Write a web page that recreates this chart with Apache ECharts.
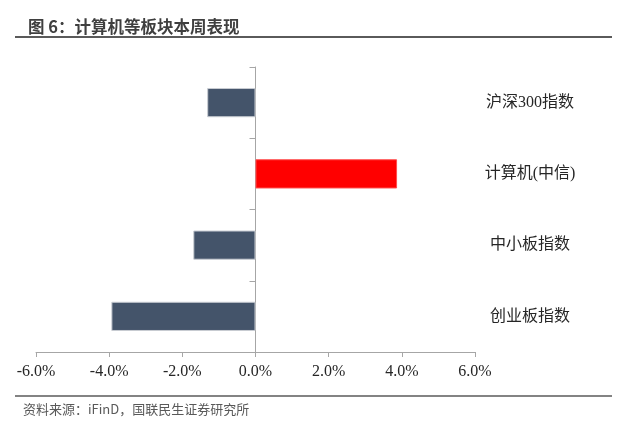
<!DOCTYPE html>
<html>
<head>
<meta charset="utf-8">
<script src="https://cdn.jsdelivr.net/npm/echarts@6/dist/echarts.min.js"></script>
<style>
html,body{margin:0;padding:0;background:#fff;}
#c{width:620px;height:424px;}
</style>
</head>
<body>
<div id="c"></div>
<script>
var categories = ['沪深300指数', '计算机(中信)', '中小板指数', '创业板指数'];
var values = [-1.32, 3.87, -1.70, -3.94];
var highlight = '计算机(中信)';
var xTicks = { min: -6, max: 6, step: 2 };

var chart = echarts.init(document.getElementById('c'), null, { renderer: 'canvas' });
var axisGray = '#a6a6a6';
var option = {
  animation: false,
  backgroundColor: '#fff',
  title: {
    text: '图 6：计算机等板块本周表现',
    left: 23, top: 13,
    textStyle: { fontFamily: 'Noto Sans CJK SC', fontSize: 16.5, fontWeight: 'bold', color: '#3f3f3f' }
  },
  graphic: [
    { type: 'line', shape: { x1: 15, y1: 37, x2: 612, y2: 37 }, style: { stroke: '#5a5a5a', lineWidth: 2 } },
    { type: 'line', shape: { x1: 15, y1: 396, x2: 612, y2: 396 }, style: { stroke: '#5a5a5a', lineWidth: 1.5 } },
    { type: 'text', left: 23, top: 403, style: { text: '资料来源：iFinD，国联民生证券研究所', fontFamily: 'Noto Sans CJK SC', fontSize: 13, fill: '#595959' } }
  ],
  grid: { left: 36, right: 145, top: 67, bottom: 72, containLabel: false },
  xAxis: {
    type: 'value',
    min: xTicks.min, max: xTicks.max, interval: xTicks.step,
    splitLine: { show: false },
    axisLine: { show: true, lineStyle: { color: axisGray, width: 1 } },
    axisTick: { show: true, length: 5, lineStyle: { color: axisGray } },
    axisLabel: {
      margin: 12,
      fontFamily: 'Liberation Serif', fontSize: 16, color: '#262626',
      formatter: function (v) { return v.toFixed(1) + '%'; }
    }
  },
  yAxis: [
    {
      type: 'category', data: categories, inverse: true,
      axisLine: { show: true, onZero: true, lineStyle: { color: axisGray, width: 1 } },
      axisTick: { show: true, length: 6, lineStyle: { color: axisGray } },
      axisLabel: { show: false }
    },
    {
      type: 'category', data: categories, inverse: true, position: 'right',
      axisLine: { show: false }, axisTick: { show: false },
      axisLabel: { show: true, align: 'center', margin: 55, fontFamily: 'Liberation Serif, Noto Sans CJK SC', fontSize: 16, color: '#262626' }
    }
  ],
  series: [{
    type: 'bar',
    yAxisIndex: 0,
    barCategoryGap: '59%',
    data: values.map(function (v, i) {
      return {
        value: v,
        itemStyle: {
          color: categories[i] === highlight ? '#ff0000' : '#44546a',
          borderColor: categories[i] === highlight ? '#ff4d4d' : '#c8ccd2',
          borderWidth: 1
        }
      };
    })
  }]
};
chart.setOption(option);
</script>
</body>
</html>
